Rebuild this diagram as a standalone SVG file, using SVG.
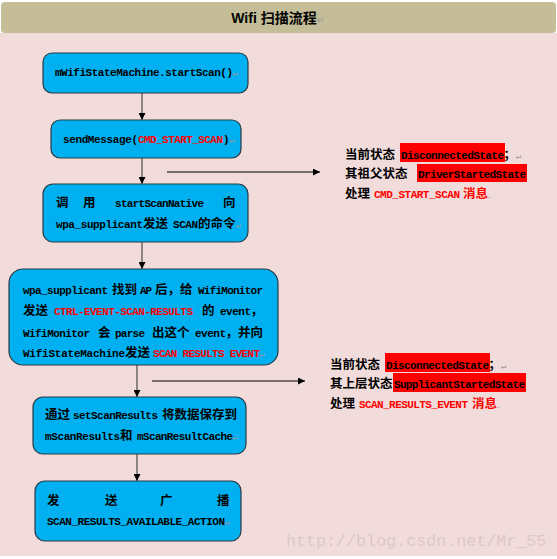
<svg xmlns="http://www.w3.org/2000/svg" width="557" height="559" viewBox="0 0 557 559">
<defs>
<style>
.box{fill:#00b0f0;stroke:#2b3a44;stroke-width:1.2}
.t{font-family:"Noto Sans CJK SC","Liberation Mono",monospace;font-size:12.5px;font-weight:bold;fill:#000}
.m{font-family:"Liberation Mono","Noto Sans CJK SC",monospace;font-size:11px;font-weight:bold}
.r{fill:#ff0000}
.g{fill:#999;font-weight:normal;font-size:9px}
.hl{fill:#ff0000}
.ln{stroke:#555;stroke-width:1.3;fill:none}
.la{stroke:#000;stroke-width:1.2;fill:none}
</style>
<marker id="ah" viewBox="0 0 10 10" refX="10" refY="5" markerWidth="7" markerHeight="7" orient="auto" markerUnits="userSpaceOnUse">
<path d="M0,0 L10,5 L0,10 z" fill="#000"/>
</marker>
</defs>
<rect x="0" y="33" width="557" height="523" fill="#f2dcdb"/>
<rect x="1" y="2" width="555" height="31" rx="4" fill="#c4bd97"/>
<text x="278" y="23" text-anchor="middle" font-family="Liberation Sans,'Noto Sans CJK SC',sans-serif" font-size="14" font-weight="bold" fill="#000">Wifi 扫描流程<tspan class="g" font-size="9">↵</tspan></text>
<text x="286" y="546" font-family="Liberation Mono,monospace" font-size="16.7" fill="#ddc8c8">http://blog.csdn.net/Mr_55</text>

<g id="connectors">
<line class="ln" x1="142" y1="93" x2="142" y2="120" marker-end="url(#ah)"/>
<line class="ln" x1="142" y1="158" x2="142" y2="184" marker-end="url(#ah)"/>
<line class="ln" x1="142" y1="242" x2="142" y2="269" marker-end="url(#ah)"/>
<line class="ln" x1="137" y1="365" x2="137" y2="397" marker-end="url(#ah)"/>
<line class="ln" x1="137" y1="454" x2="137" y2="481" marker-end="url(#ah)"/>
<line class="la" x1="167" y1="172" x2="320" y2="172" marker-end="url(#ah)"/>
<line class="la" x1="152" y1="381" x2="305" y2="381" marker-end="url(#ah)"/>
</g>

<g id="n1">
<rect class="box" x="43" y="53" width="205" height="40" rx="9"/>
<text class="t" y="76"><tspan class="m" x="55" textLength="178">mWifiStateMachine.startScan()</tspan><tspan class="g">↵</tspan></text>
</g>

<g id="n2">
<rect class="box" x="51" y="120" width="190" height="38" rx="9"/>
<text class="t" y="143"><tspan class="m" x="63" textLength="75">sendMessage(</tspan><tspan class="m r" x="138" textLength="85">CMD_START_SCAN</tspan><tspan class="m" x="223" textLength="6">)</tspan><tspan class="g">↵</tspan></text>
</g>

<g id="n3">
<rect class="box" x="43" y="184" width="205" height="58" rx="10"/>
<text class="t" y="207"><tspan x="56">调</tspan><tspan x="83">用</tspan><tspan class="m" x="115" textLength="89">startScanNative</tspan><tspan x="223">向</tspan></text>
<text class="t" y="228"><tspan class="m" x="56" textLength="87">wpa_supplicant</tspan><tspan x="143">发送</tspan><tspan class="m" x="173" textLength="25">SCAN</tspan><tspan x="198">的命令</tspan><tspan class="g">↵</tspan></text>
</g>

<g id="n4">
<rect class="box" x="9" y="269" width="269" height="96" rx="14"/>
<text class="t" y="294"><tspan class="m" x="23" textLength="85">wpa_supplicant</tspan><tspan x="112">找到</tspan><tspan class="m" x="140" textLength="12">AP</tspan><tspan x="155">后，给</tspan><tspan class="m" x="198" textLength="65">WifiMonitor</tspan></text>
<text class="t" y="315"><tspan x="23">发送</tspan><tspan class="m r" x="54" textLength="139">CTRL-EVENT-SCAN-RESULTS</tspan><tspan x="202">的</tspan><tspan class="m" x="220" textLength="31">event</tspan><tspan>，</tspan></text>
<text class="t" y="337"><tspan class="m" x="23" textLength="67">WifiMonitor</tspan><tspan x="98">会</tspan><tspan class="m" x="115" textLength="30">parse</tspan><tspan x="152">出这个</tspan><tspan class="m" x="195" textLength="31">event</tspan><tspan>，并向</tspan></text>
<text class="t" y="357"><tspan class="m" x="23" textLength="102">WifiStateMachine</tspan><tspan x="125">发送</tspan><tspan class="m r" x="153" textLength="107">SCAN RESULTS EVENT</tspan><tspan class="g">↵</tspan></text>
</g>

<g id="n5">
<rect class="box" x="33" y="397" width="213" height="57" rx="10"/>
<text class="t" y="419"><tspan x="45">通过</tspan><tspan class="m" x="73" textLength="85">setScanResults</tspan><tspan x="162">将数据保存到</tspan></text>
<text class="t" y="440"><tspan class="m" x="45" textLength="75">mScanResults</tspan><tspan x="120">和</tspan><tspan class="m" x="137" textLength="96">mScanResultCache</tspan><tspan class="g">↵</tspan></text>
</g>

<g id="n6">
<rect class="box" x="35" y="481" width="206" height="60" rx="10"/>
<text class="t" y="505"><tspan x="47">发</tspan><tspan x="105">送</tspan><tspan x="160">广</tspan><tspan x="217">播</tspan></text>
<text class="t" y="525"><tspan class="m" x="47" textLength="178">SCAN_RESULTS_AVAILABLE_ACTION</tspan><tspan class="g">↵</tspan></text>
</g>

<g id="note1">
<rect class="hl" x="400" y="143" width="105" height="19"/>
<rect class="hl" x="417" y="164" width="110" height="18"/>
<text class="t" y="159"><tspan x="345">当前状态</tspan><tspan class="m" x="401" textLength="103">DisconnectedState</tspan><tspan>；</tspan><tspan class="g">↵</tspan></text>
<text class="t" y="178"><tspan x="345">其祖父状态</tspan><tspan class="m" x="418" textLength="108">DriverStartedState</tspan></text>
<text class="t" y="198"><tspan x="345">处理</tspan><tspan class="m r" x="374" textLength="86">CMD_START_SCAN</tspan><tspan class="r" x="463">消息</tspan><tspan class="g">.</tspan></text>
</g>

<g id="note2">
<rect class="hl" x="385" y="353" width="105" height="19"/>
<rect class="hl" x="393" y="373" width="133" height="19"/>
<text class="t" y="369"><tspan x="330">当前状态</tspan><tspan class="m" x="386" textLength="103">DisconnectedState</tspan><tspan>；</tspan><tspan class="g">↵</tspan></text>
<text class="t" y="388"><tspan x="330">其上层状态</tspan><tspan class="m" x="394" textLength="131">SupplicantStartedState</tspan></text>
<text class="t" y="408"><tspan x="330">处理</tspan><tspan class="m r" x="359" textLength="109">SCAN_RESULTS_EVENT</tspan><tspan class="r" x="472">消息</tspan><tspan class="g">.</tspan></text>
</g>
</svg>
